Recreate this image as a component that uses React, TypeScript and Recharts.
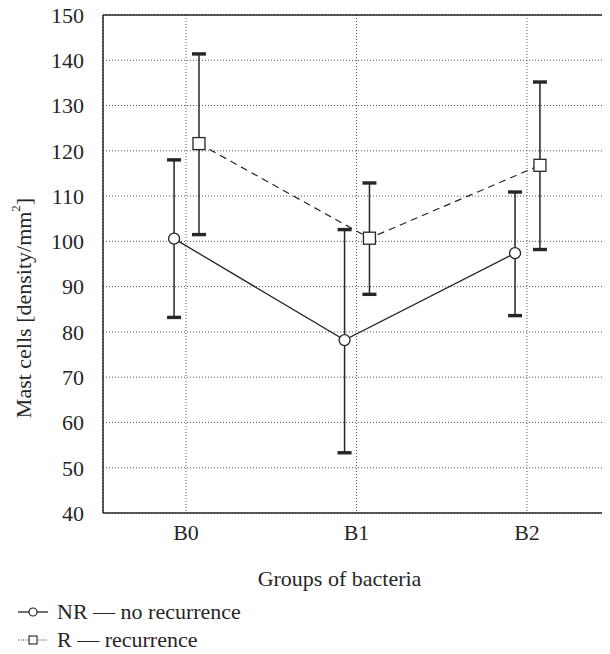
import React from "react";
import {
  ComposedChart,
  Line,
  Scatter,
  ErrorBar,
  XAxis,
  YAxis,
  CartesianGrid,
  ReferenceLine,
} from "recharts";

const CATEGORIES = ["B0", "B1", "B2"];

// NR — no recurrence
const NR_MEAN = [100.6, 78.2, 97.4];
const NR_HIGH = [118.0, 102.6, 110.9];
const NR_LOW = [83.2, 53.3, 83.6];

// R — recurrence
const R_MEAN = [121.6, 100.7, 116.8];
const R_HIGH = [141.4, 112.9, 135.2];
const R_LOW = [101.5, 88.3, 98.2];

const Y_TICKS = [40, 50, 60, 70, 80, 90, 100, 110, 120, 130, 140, 150];

// small side-by-side shift of the two groups around each category
const NR_SHIFT = -0.07;
const R_SHIFT = 0.076;

const FONT = "Liberation Serif";
const INK = "#262626";
const FS = 22;

const FONT_CSS = `
html body #root div, html body #root span, html body #root svg,
html body #root text, html body #root tspan {
  font-family: "Liberation Serif", serif !important;
}
`;

function rows(mean: number[], low: number[], high: number[], shift: number) {
  return mean.map((m, i) => ({
    x: i + shift,
    y: m,
    err: [m - low[i], high[i] - m],
  }));
}

function caps(low: number[], high: number[], shift: number) {
  return low.flatMap((l, i) => [
    { x: i + shift, y: l },
    { x: i + shift, y: high[i] },
  ]);
}

const nrRows = rows(NR_MEAN, NR_LOW, NR_HIGH, NR_SHIFT);
const rRows = rows(R_MEAN, R_LOW, R_HIGH, R_SHIFT);
const capRows = [...caps(NR_LOW, NR_HIGH, NR_SHIFT), ...caps(R_LOW, R_HIGH, R_SHIFT)];

const CircleDot = (p: any) => {
  if (p.cx == null || p.cy == null) return null;
  return <circle cx={p.cx} cy={p.cy} r={5.5} fill="#fff" stroke={INK} strokeWidth={1.3} />;
};

const SquareDot = (p: any) => {
  if (p.cx == null || p.cy == null) return null;
  return (
    <rect x={p.cx - 6} y={p.cy - 6} width={12} height={12} fill="#fff" stroke={INK} strokeWidth={1.3} />
  );
};

const Cap = (p: any) => {
  if (p.cx == null || p.cy == null) return null;
  return <rect x={p.cx - 7} y={p.cy - 1.7} width={14} height={3.4} fill={INK} />;
};

const YTitle = ({ viewBox }: any) => {
  const cy = viewBox.y + viewBox.height / 2 + 44;
  const cx = 23;
  return (
    <text
      x={cx}
      y={cy}
      transform={`rotate(-90 ${cx} ${cy})`}
      textAnchor="middle"
      dominantBaseline="central"
      fontFamily={FONT}
      fontSize={FS}
      fill={INK}
    >
      Mast cells [density/mm
      <tspan fontSize={13} dy={-8}>2</tspan>
      <tspan dy={8}>]</tspan>
    </text>
  );
};

const XTitle = ({ viewBox }: any) => (
  <text
    x={viewBox.x + viewBox.width / 2 - 17}
    y={578}
    textAnchor="middle"
    dominantBaseline="central"
    fontFamily={FONT}
    fontSize={FS}
    fill={INK}
  >
    Groups of bacteria
  </text>
);

function LegendRow({ square, label }: { square?: boolean; label: string }) {
  return (
    <div style={{ display: "flex", alignItems: "center", height: 28 }}>
      <svg width={30} height={14} style={{ marginRight: 9 }}>
        {square ? (
          <>
            <line x1={0} y1={7} x2={30} y2={7} stroke={INK} strokeWidth={1} strokeDasharray="1 1.5" />
            <rect x={11} y={3} width={8} height={8} fill="#fff" stroke={INK} strokeWidth={1.1} />
          </>
        ) : (
          <>
            <line x1={0} y1={7} x2={30} y2={7} stroke={INK} strokeWidth={1.3} />
            <circle cx={15} cy={7} r={4} fill="#fff" stroke={INK} strokeWidth={1.2} />
          </>
        )}
      </svg>
      <span style={{ fontFamily: FONT }}>{label}</span>
    </div>
  );
}

export default function App() {
  return (
    <div
      style={{
        position: "relative",
        width: 610,
        height: 654,
        marginLeft: -8,
        marginTop: -8,
        fontFamily: FONT,
        color: INK,
        overflow: "hidden",
      }}
    >
      <style>{FONT_CSS}</style>
      <ComposedChart
        width={610}
        height={600}
        margin={{ top: 15, right: 0, left: 43, bottom: 0 }}
      >
        <CartesianGrid stroke="#555" strokeDasharray="1 2" strokeWidth={1} />
        <XAxis
          type="number"
          dataKey="x"
          domain={[-0.487, 2.487]}
          allowDataOverflow
          ticks={[0, 1, 2]}
          tickFormatter={(v) => CATEGORIES[Math.round(Number(v))]}
          height={87}
          tickLine={false}
          tickMargin={5}
          axisLine={{ stroke: INK, strokeWidth: 1.5 }}
          tick={{ fill: INK, fontSize: FS, fontFamily: FONT }}
          label={<XTitle />}
        />
        <YAxis
          type="number"
          dataKey="y"
          domain={[40, 150]}
          ticks={Y_TICKS}
          interval={0}
          width={60}
          tickLine={false}
          tickMargin={13}
          axisLine={{ stroke: INK, strokeWidth: 1.5 }}
          tick={{ fill: INK, fontSize: FS, fontFamily: FONT }}
          label={<YTitle />}
        />
        <ReferenceLine y={150} stroke={INK} strokeWidth={1.5} />
        <Line
          data={nrRows}
          dataKey="y"
          stroke={INK}
          strokeWidth={1.3}
          dot={<CircleDot />}
          activeDot={false}
          isAnimationActive={false}
        >
          <ErrorBar dataKey="err" direction="y" width={0} stroke={INK} strokeWidth={1.5} />
        </Line>
        <Line
          data={rRows}
          dataKey="y"
          stroke={INK}
          strokeWidth={1.2}
          strokeDasharray="7 5"
          dot={<SquareDot />}
          activeDot={false}
          isAnimationActive={false}
        >
          <ErrorBar dataKey="err" direction="y" width={0} stroke={INK} strokeWidth={1.5} />
        </Line>
        <Scatter data={capRows} dataKey="y" shape={<Cap />} isAnimationActive={false} />
      </ComposedChart>
      <div
        style={{
          position: "absolute",
          left: 18,
          top: 598,
          fontSize: FS,
          lineHeight: "28px",
        }}
      >
        <LegendRow label="NR — no recurrence" />
        <LegendRow square label="R — recurrence" />
      </div>
    </div>
  );
}
